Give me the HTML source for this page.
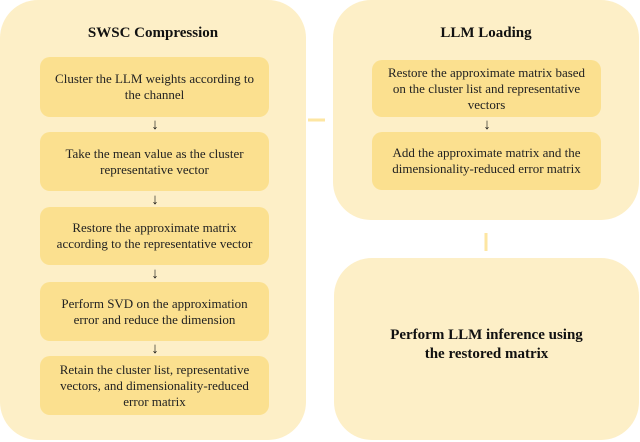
<!DOCTYPE html>
<html><head><style>
body{margin:0;width:640px;height:442px;background:#fff;position:relative;font-family:"Liberation Serif",serif;overflow:hidden}
.p{position:absolute;background:#fdefc7;border-radius:38px}
.b{position:absolute;background:#fbe08f;border-radius:10px;display:flex;align-items:center;justify-content:center;text-align:center;font-size:13px;line-height:16px;color:#222}
.t{position:absolute;font-weight:bold;font-size:15px;text-align:center;color:#111}
.a{position:absolute;font-size:15px;color:#111;width:20px;text-align:center;line-height:14px}
</style></head><body>
<div class="p" style="left:0;top:0;width:306px;height:440px"></div>
<div class="p" style="left:333;top:0;left:333px;width:306px;height:220px"></div>
<div class="p" style="left:334px;top:258px;width:305px;height:182px"></div>
<div class="t" style="left:0;width:306px;top:25px">SWSC Compression</div>
<div class="t" style="left:333px;width:306px;top:25px">LLM Loading</div>
<div class="b" style="left:40px;top:57px;width:229px;height:60px">Cluster the LLM weights according to<br>the channel</div>
<div class="a" style="left:145px;top:118px">↓</div>
<div class="b" style="left:40px;top:132px;width:229px;height:59px">Take the mean value as the cluster<br>representative vector</div>
<div class="a" style="left:145px;top:193px">↓</div>
<div class="b" style="left:40px;top:207px;width:229px;height:58px">Restore the approximate matrix<br>according to the representative vector</div>
<div class="a" style="left:145px;top:267px">↓</div>
<div class="b" style="left:40px;top:282px;width:229px;height:59px">Perform SVD on the approximation<br>error and reduce the dimension</div>
<div class="a" style="left:145px;top:342px">↓</div>
<div class="b" style="left:40px;top:356px;width:229px;height:59px">Retain the cluster list, representative<br>vectors, and dimensionality-reduced<br>error matrix</div>
<div class="b" style="left:372px;top:60px;width:229px;height:57px">Restore the approximate matrix based<br>on the cluster list and representative<br>vectors</div>
<div class="a" style="left:477px;top:118px">↓</div>
<div class="b" style="left:372px;top:132px;width:229px;height:58px">Add the approximate matrix and the<br>dimensionality-reduced error matrix</div>
<div class="t" style="left:334px;width:305px;top:326px;line-height:19px">Perform LLM inference using<br>the restored matrix</div>
<svg style="position:absolute;left:0;top:0" width="640" height="442">
<line x1="308" y1="120" x2="325" y2="120" stroke="#fde6a2" stroke-width="3"/>
<line x1="486" y1="233" x2="486" y2="251" stroke="#fde6a2" stroke-width="3"/>
</svg>
</body></html>
